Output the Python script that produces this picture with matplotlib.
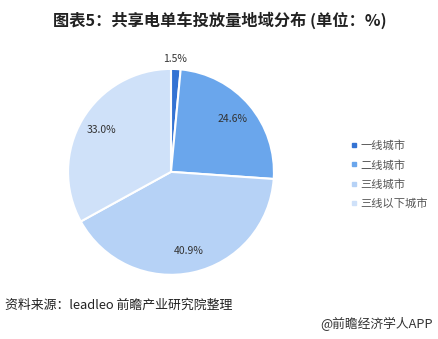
import matplotlib
matplotlib.use("Agg")
import matplotlib.pyplot as plt
from matplotlib.lines import Line2D

plt.rcParams['font.family'] = ['Noto Sans CJK SC', 'DejaVu Sans']

categories = ['一线城市', '二线城市', '三线城市', '三线以下城市']
values = [1.5, 24.6, 40.9, 33.0]
colors = ['#3473d3', '#6aa6ec', '#b6d2f6', '#cfe1f9']

fig = plt.figure(figsize=(4.39, 3.39), dpi=100)
fig.patch.set_facecolor('white')
ax = fig.add_axes([0.155, 0.189, 0.469, 0.608])

wedges, texts, autotexts = ax.pie(
    values, colors=colors, startangle=90, counterclock=False,
    autopct='%1.1f%%', pctdistance=0.79,
    wedgeprops=dict(edgecolor='white', linewidth=1.5),
    textprops=dict(fontsize=7.5, color='#333333'))
ax.set_aspect('equal')
ax.set_xlim(-1, 1)
ax.set_ylim(-1, 1)
# small slice label outside
autotexts[0].set_position((0.04, 1.1))

fig.text(0.5, 0.94, '图表5：共享电单车投放量地域分布 (单位：%)', ha='center', va='center',
         fontsize=11.7, fontweight='bold', color='#222222')

handles = [Line2D([0], [0], marker='s', color='none', markerfacecolor=c,
                  markeredgecolor=c, markersize=3) for c in colors]
fig.legend(handles, categories, loc='center left', bbox_to_anchor=(0.775, 0.485),
           frameon=False, fontsize=8.1, handlelength=0.6, handletextpad=0.3,
           labelspacing=0.75, labelcolor='#555555')

fig.text(0.012, 0.1, '资料来源：leadleo 前瞻产业研究院整理', ha='left', va='center',
         fontsize=9.3, color='#222222')
fig.text(0.985, 0.044, '@前瞻经济学人APP', ha='right', va='center',
         fontsize=9.2, color='#333333')

fig.savefig('out.png', dpi=100, facecolor='white')
